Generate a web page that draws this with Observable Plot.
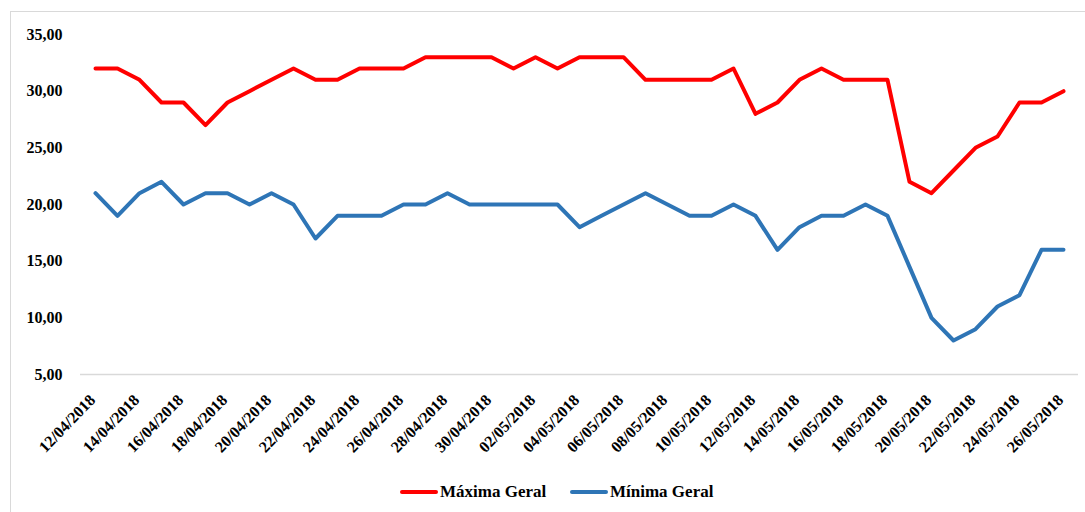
<!DOCTYPE html>
<html>
<head>
<meta charset="utf-8">
<script src="https://cdn.jsdelivr.net/npm/d3@7"></script>
<script src="https://cdn.jsdelivr.net/npm/@observablehq/plot@0.6"></script>
<style>
  html, body { margin: 0; padding: 0; background: #fff; overflow: hidden; }
  body { width: 1085px; height: 512px; position: relative; font-family: "Liberation Serif", "Times New Roman", serif; }
  #frame { position: absolute; left: 10px; top: 11px; width: 1100px; height: 520px; border: 1px solid #d9d9d9; box-sizing: border-box; pointer-events: none; }
  #chart { position: absolute; left: 0; top: 0; }
  #chart svg text { font-family: "Liberation Serif", "Times New Roman", serif; }
  #legend { position: absolute; left: 0; top: 478px; width: 1085px; height: 30px; font-weight: bold; font-size: 17px; color: #000; font-family: "Liberation Serif", "Times New Roman", serif; }
  .item { position: absolute; top: 0; display: flex; align-items: center; height: 28px; }
  .sw { width: 38px; height: 4px; border-radius: 2px; margin-right: 2px; }
</style>
</head>
<body>
<div id="frame"></div>
<div id="chart"></div>
<div id="legend"></div>
<script>
const dates = [
  "12/04/2018","13/04/2018","14/04/2018","15/04/2018","16/04/2018","17/04/2018","18/04/2018","19/04/2018","20/04/2018",
  "21/04/2018","22/04/2018","23/04/2018","24/04/2018","25/04/2018","26/04/2018","27/04/2018","28/04/2018","29/04/2018",
  "30/04/2018","01/05/2018","02/05/2018","03/05/2018","04/05/2018","05/05/2018","06/05/2018","07/05/2018","08/05/2018",
  "09/05/2018","10/05/2018","11/05/2018","12/05/2018","13/05/2018","14/05/2018","15/05/2018","16/05/2018","17/05/2018",
  "18/05/2018","19/05/2018","20/05/2018","21/05/2018","22/05/2018","23/05/2018","24/05/2018","25/05/2018","26/05/2018"
];
const maxima = [32,32,31,29,29,27,29,30,31,32,31,31,32,32,32,33,33,33,33,32,33,32,33,33,33,31,31,31,31,32,28,29,31,32,31,31,31,22,21,23,25,26,29,29,30];
const minima = [21,19,21,22,20,21,21,20,21,20,17,19,19,19,20,20,21,20,20,20,20,20,18,19,20,21,20,19,19,20,19,16,18,19,19,20,19,14.5,10,8,9,11,12,16,16];
const xTicks = dates.filter((d, i) => i % 2 === 0);
const yTicks = [5, 10, 15, 20, 25, 30, 35];
const seriesNames = ["Máxima Geral", "Mínima Geral"];
const seriesColors = ["#ff0000", "#2e75b6"];

const data = dates.map((d, i) => ({date: d, max: maxima[i], min: minima[i]}));
const fmt = v => v.toFixed(2).replace(".", ",");
const FF = "Liberation Serif";

const chart = Plot.plot({
  width: 1085,
  height: 470,
  marginLeft: 80,
  marginRight: 7,
  marginTop: 34,
  marginBottom: 96,
  style: {fontFamily: FF, fontSize: "16px", fontWeight: "bold", color: "#000", background: "transparent"},
  x: {type: "point", domain: dates, padding: 0.5, label: null},
  y: {domain: [5, 35], label: null},
  marks: [
    Plot.ruleY([5], {stroke: "#d9d9d9", strokeWidth: 1.5}),
    Plot.axisY({ticks: yTicks, tickFormat: fmt, tickSize: 0, tickPadding: 18, fontSize: 16, fontWeight: "bold", fontFamily: FF}),
    Plot.axisX({ticks: xTicks, tickSize: 0, tickPadding: 23, dx: -3, tickRotate: -46, fontSize: 16, fontWeight: "bold", fontFamily: FF}),
    Plot.line(data, {x: "date", y: "max", stroke: seriesColors[0], strokeWidth: 4, strokeLinejoin: "round", strokeLinecap: "round"}),
    Plot.line(data, {x: "date", y: "min", stroke: seriesColors[1], strokeWidth: 4, strokeLinejoin: "round", strokeLinecap: "round"})
  ]
});
document.getElementById("chart").appendChild(chart);

const legend = document.getElementById("legend");
const lefts = [400, 570];
seriesNames.forEach((name, i) => {
  const item = document.createElement("div");
  item.className = "item";
  item.style.left = lefts[i] + "px";
  const sw = document.createElement("div");
  sw.className = "sw";
  sw.style.background = seriesColors[i];
  const t = document.createElement("span");
  t.textContent = name;
  item.appendChild(sw);
  item.appendChild(t);
  legend.appendChild(item);
});
</script>
</body>
</html>
